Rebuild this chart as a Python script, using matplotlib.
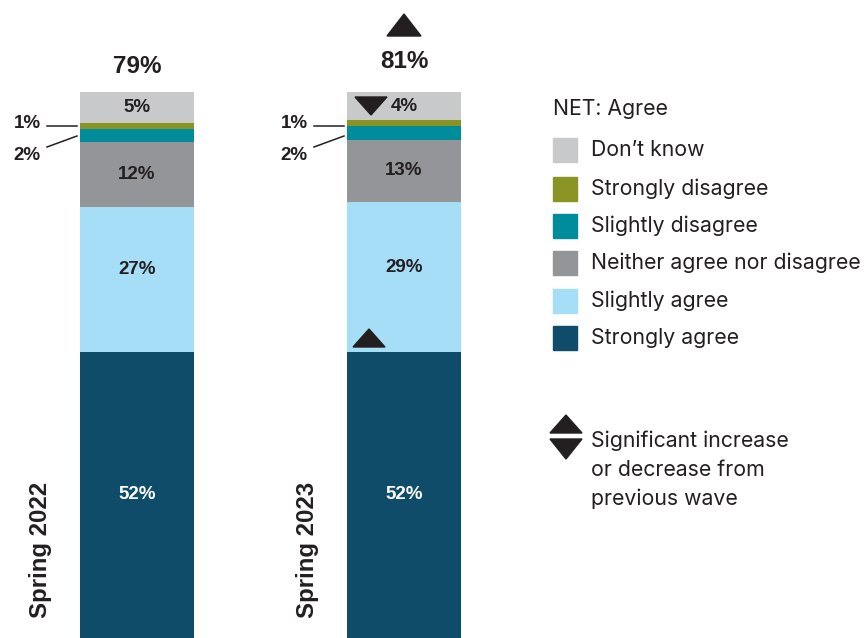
import numpy as np
import matplotlib
matplotlib.use('Agg')
import matplotlib.pyplot as plt
from matplotlib.patches import Polygon, Rectangle
from matplotlib.lines import Line2D

# data (bottom -> top of each stack); heights, labels as printed
categories = ['Strongly agree', 'Slightly agree', 'Neither agree nor disagree',
              'Slightly disagree', 'Strongly disagree', "Don\u2019t know"]
colors = ['#0F4C6A', '#A6DEF8', '#949599', '#008D9B', '#8A9424', '#C8C9CB']
waves = ['Spring 2022', 'Spring 2023']
values_2022 = [52.4, 26.6, 11.9, 2.4, 1.1, 5.6]
values_2023 = [52.4, 27.5, 11.4, 2.4, 1.1, 5.2]
labels_2022 = ['52%', '27%', '12%', '2%', '1%', '5%']
labels_2023 = ['52%', '29%', '13%', '2%', '1%', '4%']
net_agree = ['79%', '81%']

W, H = 866, 638
fig = plt.figure(figsize=(W / 100, H / 100), dpi=100)
ax = fig.add_axes([0, 0, 1, 1])
ax.set_xlim(-137 / 267, (W - 137) / 267)
ax.set_ylim(0, 100 * H / 546)
ax.axis('off')

DARK = '#231F20'
LABEL_FONT = 'Liberation Sans'
LEGEND_FONT = 'Inter'


def fx(x, y):
    # reference pixel -> figure fraction
    return x / W, 1 - y / H


def triangle(xc, yc, w, h, up=True):
    if up:
        pts = [(xc - w / 2, yc + h / 2), (xc + w / 2, yc + h / 2), (xc, yc - h / 2)]
    else:
        pts = [(xc - w / 2, yc - h / 2), (xc + w / 2, yc - h / 2), (xc, yc + h / 2)]
    fig.patches.append(Polygon([fx(*p) for p in pts], closed=True, color=DARK,
                               transform=fig.transFigure, figure=fig))


bar_w = 114 / 267
for i, (vals, labs) in enumerate([(values_2022, labels_2022), (values_2023, labels_2023)]):
    bottom = 0.0
    for k, (v, lab) in enumerate(zip(vals, labs)):
        ax.bar(i, v, bottom=bottom, width=bar_w, color=colors[k], linewidth=0)
        if v >= 4:
            yc = bottom + v / 2
            if k == 1:
                yc += 1.7
            ax.text(i, yc, lab, ha='center', va='center', fontsize=13.5,
                    fontweight='bold', family=LABEL_FONT,
                    color='white' if k == 0 else DARK)
        bottom += v
    ax.text(i, bottom + (4.7 if i == 0 else 5.6), net_agree[i], ha='center', va='center',
            fontsize=17.5, fontweight='bold', family=LABEL_FONT, color=DARK)
    ax.text(i - 0.36, 16.1, waves[i], rotation=90, ha='center', va='center',
            fontsize=17.3, fontweight='bold', family=LABEL_FONT, color=DARK)

# small segment callouts
for x0 in [0, 267]:
    fig.text(*fx(27 + x0, 123), '1%', ha='center', va='center', fontsize=13.5,
             fontweight='bold', family=LABEL_FONT, color=DARK)
    fig.text(*fx(27 + x0, 155), '2%', ha='center', va='center', fontsize=13.5,
             fontweight='bold', family=LABEL_FONT, color=DARK)
    for (xa, ya), (xb, yb) in [((47, 126), (77, 126)), ((47, 147), (77, 136))]:
        p1, p2 = fx(xa + x0, ya), fx(xb + x0, yb)
        fig.add_artist(Line2D([p1[0], p2[0]], [p1[1], p2[1]], color=DARK, lw=1.1,
                              transform=fig.transFigure))

# significance markers
triangle(404, 25, 34, 22, up=True)
triangle(371, 106, 32, 18, up=False)
triangle(369, 338, 32, 18, up=True)

# legend
fig.text(*fx(553, 109), 'NET: Agree', ha='left', va='center', fontsize=15.3,
         family=LEGEND_FONT, color=DARK)
leg_y = [338, 301, 263, 226, 189, 150]
for k, cat in enumerate(categories):
    x0, y0 = fx(553, leg_y[k] + 12)
    fig.patches.append(Rectangle((x0, y0), 24 / W, 24 / H, color=colors[k],
                                 transform=fig.transFigure, figure=fig))
    fig.text(*fx(591, leg_y[k]), cat, ha='left', va='center', fontsize=15.3,
             family=LEGEND_FONT, color=DARK)

triangle(566, 424, 32, 18, up=True)
triangle(566, 449, 32, 20, up=False)
fig.text(*fx(591, 470), 'Significant increase\nor decrease from\nprevious wave',
         ha='left', va='center', fontsize=15.3, family=LEGEND_FONT, color=DARK,
         linespacing=1.55, transform=fig.transFigure)

fig.savefig('out.png', dpi=100)
